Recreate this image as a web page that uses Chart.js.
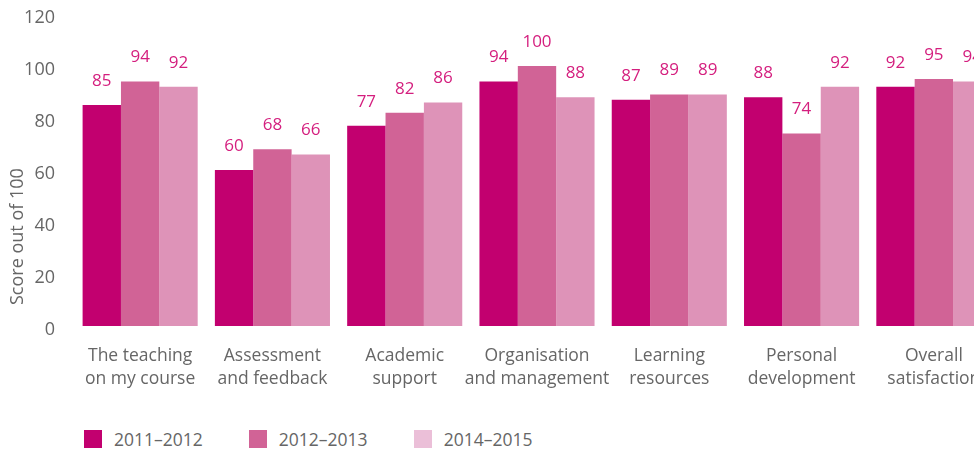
<!DOCTYPE html>
<html>
<head>
<meta charset="utf-8">
<script src="https://cdn.jsdelivr.net/npm/chart.js@4"></script>
<style>
  body { margin: 0; background: #fff; overflow: hidden; font-family: "Open Sans", sans-serif; }
  #wrap { position: relative; width: 1000px; height: 400px; }
  #legend { position: absolute; left: 84px; top: 430px; display: flex; color: #666; font-size: 17.5px; }
  .item { display: flex; align-items: center; margin-right: 46px; height: 18px; }
  .box { width: 18px; height: 18px; margin-right: 12px; }
</style>
</head>
<body>
<div id="wrap"><canvas id="scoreChart"></canvas></div>
<div id="legend"></div>
<script>
// Survey scores by category
const categories = [
    ['The teaching', 'on my course'],
    ['Assessment', 'and feedback'],
    ['Academic', 'support'],
    ['Organisation', 'and management'],
    ['Learning', 'resources'],
    ['Personal', 'development'],
    ['Overall', 'satisfaction']
];
const seriesNames = ['2011–2012', '2012–2013', '2014–2015'];
const scores2011 = [85, 60, 77, 94, 87, 88, 92];
const scores2012 = [94, 68, 82, 100, 89, 74, 95];
const scores2014 = [92, 66, 86, 88, 89, 92, 94];
const yTicks = [0, 20, 40, 60, 80, 100, 120];

const barColors = ['#c2006f', '#d16396', '#de93b8'];
const legendColors = ['#c2006f', '#d16396', '#ebbfd8'];

// Draws the value above each bar
const valueLabels = {
    id: 'valueLabels',
    afterDatasetsDraw(chart) {
        const ctx = chart.ctx;
        ctx.save();
        ctx.font = '17px "Open Sans", sans-serif';
        ctx.fillStyle = '#d41e7e';
        ctx.textAlign = 'center';
        ctx.textBaseline = 'middle';
        chart.data.datasets.forEach((ds, i) => {
            chart.getDatasetMeta(i).data.forEach((bar, j) => {
                ctx.fillText(ds.data[j], bar.x, bar.y - 24);
            });
        });
        ctx.restore();
    }
};

function buildLegend() {
    const legend = document.getElementById('legend');
    seriesNames.forEach((name, i) => {
        const item = document.createElement('div');
        item.className = 'item';
        item.innerHTML = `<span class="box" style="background:${legendColors[i]}"></span><span>${name}</span>`;
        legend.appendChild(item);
    });
}

function createScoreChart() {
    const ctx = document.getElementById('scoreChart').getContext('2d');
    const allScores = [scores2011, scores2012, scores2014];
    new Chart(ctx, {
        type: 'bar',
        data: {
            labels: categories,
            datasets: allScores.map((data, i) => ({
                label: seriesNames[i],
                data: data,
                backgroundColor: barColors[i],
                categoryPercentage: 0.87,
                barPercentage: 1
            }))
        },
        options: {
            responsive: true,
            maintainAspectRatio: false,
            animation: false,
            layout: { padding: 0 },
            plugins: {
                legend: { display: false },
                tooltip: { enabled: false }
            },
            scales: {
                x: {
                    grid: { display: false, drawTicks: false },
                    border: { display: false },
                    ticks: {
                        color: '#666',
                        font: { family: 'Open Sans', size: 17.5, lineHeight: 1.32 },
                        padding: 18,
                        maxRotation: 0,
                        autoSkip: false
                    },
                    afterFit(scale) { scale.height = 74; }
                },
                y: {
                    min: 0,
                    max: 120,
                    afterBuildTicks(scale) { scale.ticks = yTicks.map(v => ({ value: v })); },
                    grid: { display: false, drawTicks: false },
                    border: { display: false },
                    ticks: {
                        color: '#666',
                        font: { family: 'Open Sans', size: 18 },
                        padding: 19,
                        labelOffset: 4
                    },
                    title: {
                        display: true,
                        align: 'start',
                        text: '\u2003\u2009Score out of 100',
                        color: '#666',
                        font: { family: 'Open Sans', size: 18 },
                        padding: { top: 7, bottom: 0 }
                    },
                    afterFit(scale) {
                        scale.width = 74;
                        scale.paddingTop = 14;
                        scale.paddingBottom = 0;
                    }
                }
            }
        },
        plugins: [valueLabels]
    });
}

document.addEventListener('DOMContentLoaded', () => {
    buildLegend();
    createScoreChart();
});
</script>
</body>
</html>
